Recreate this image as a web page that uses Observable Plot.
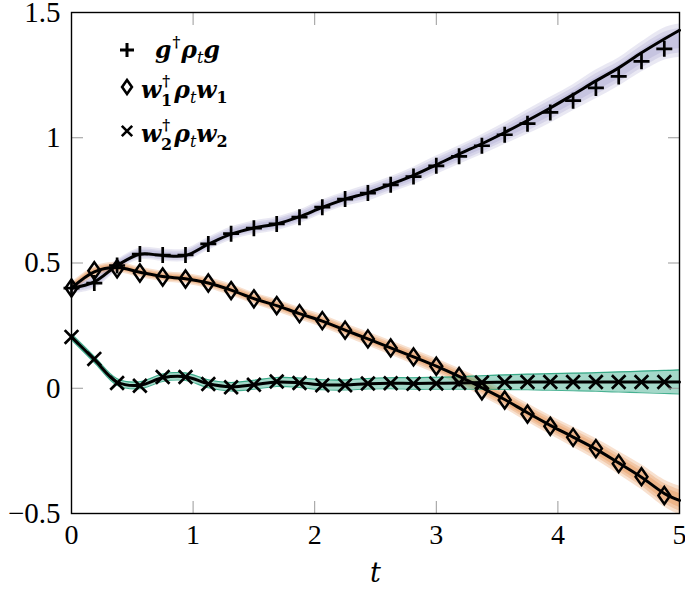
<!DOCTYPE html>
<html><head><meta charset="utf-8">
<script src="https://cdn.jsdelivr.net/npm/d3@7"></script>
<script src="https://cdn.jsdelivr.net/npm/@observablehq/plot@0.6"></script>
<style>body{margin:0;background:#fff}#chart{width:685px;height:591px}</style>
</head><body><div id="chart"></div>
<script>
// marker times and line times
const tMarks = [0, 0.1875, 0.375, 0.5625, 0.75, 0.9375, 1.125, 1.3125, 1.5, 1.6875, 1.875, 2.0625, 2.25, 2.4375, 2.625, 2.8125, 3, 3.1875, 3.375, 3.5625, 3.75, 3.9375, 4.125, 4.3125, 4.5, 4.6875, 4.875];
const tLine = [0, 0.1875, 0.375, 0.5625, 0.75, 0.9375, 1.125, 1.3125, 1.5, 1.6875, 1.875, 2.0625, 2.25, 2.4375, 2.625, 2.8125, 3, 3.1875, 3.375, 3.5625, 3.75, 3.9375, 4.125, 4.3125, 4.5, 4.6875, 4.875, 5];

// g† ρt g
const gLine = [0.40, 0.425, 0.49, 0.535, 0.53, 0.53, 0.575, 0.615, 0.64, 0.656, 0.685, 0.722, 0.755, 0.78, 0.814, 0.85, 0.892, 0.935, 0.976, 1.021, 1.069, 1.119, 1.172, 1.227, 1.279, 1.339, 1.394, 1.429];
const gMarks = [0.40, 0.42, 0.49, 0.536, 0.532, 0.532, 0.576, 0.617, 0.639, 0.656, 0.683, 0.723, 0.755, 0.779, 0.812, 0.845, 0.888, 0.926, 0.968, 1.012, 1.056, 1.101, 1.148, 1.199, 1.245, 1.305, 1.355];
const gLo = [0.38, 0.40, 0.47, 0.515, 0.51, 0.51, 0.553, 0.594, 0.617, 0.632, 0.66, 0.698, 0.73, 0.752, 0.785, 0.817, 0.858, 0.898, 0.937, 0.979, 1.02, 1.065, 1.115, 1.163, 1.213, 1.27, 1.318, 1.33];
const gHi = [0.42, 0.445, 0.51, 0.557, 0.553, 0.553, 0.598, 0.64, 0.664, 0.68, 0.708, 0.748, 0.78, 0.808, 0.84, 0.878, 0.922, 0.963, 1.007, 1.054, 1.105, 1.155, 1.205, 1.263, 1.311, 1.374, 1.43, 1.445];

// w1† ρt w1
const w1Line = [0.40, 0.465, 0.482, 0.463, 0.446, 0.437, 0.42, 0.392, 0.358, 0.33, 0.298, 0.268, 0.232, 0.197, 0.161, 0.125, 0.088, 0.047, 0.002, -0.045, -0.098, -0.148, -0.195, -0.243, -0.298, -0.355, -0.42, -0.448];
const w1Marks = [0.40, 0.469, 0.477, 0.46, 0.444, 0.436, 0.42, 0.39, 0.357, 0.33, 0.298, 0.27, 0.232, 0.197, 0.161, 0.125, 0.088, 0.047, -0.01, -0.047, -0.103, -0.152, -0.196, -0.241, -0.301, -0.353, -0.428];
const w1Half = [0.018, 0.018, 0.018, 0.018, 0.018, 0.018, 0.019, 0.02, 0.02, 0.021, 0.021, 0.022, 0.022, 0.024, 0.025, 0.026, 0.027, 0.028, 0.03, 0.031, 0.032, 0.033, 0.035, 0.037, 0.04, 0.043, 0.047, 0.05];

// w2† ρt w2
const w2Line = [0.205, 0.115, 0.025, 0.012, 0.042, 0.046, 0.018, 0.006, 0.014, 0.025, 0.022, 0.014, 0.013, 0.018, 0.02, 0.019, 0.02, 0.021, 0.023, 0.024, 0.025, 0.025, 0.025, 0.025, 0.025, 0.025, 0.025, 0.025];
const w2Marks = [0.205, 0.117, 0.021, 0.01, 0.045, 0.045, 0.017, 0.004, 0.014, 0.027, 0.021, 0.012, 0.012, 0.019, 0.02, 0.018, 0.019, 0.021, 0.023, 0.024, 0.025, 0.025, 0.025, 0.025, 0.025, 0.025, 0.025];
const w2Half = [0.012, 0.012, 0.013, 0.014, 0.015, 0.015, 0.016, 0.017, 0.018, 0.018, 0.019, 0.02, 0.02, 0.021, 0.022, 0.023, 0.024, 0.025, 0.027, 0.029, 0.031, 0.033, 0.035, 0.037, 0.04, 0.043, 0.046, 0.048];

const xTicks = [0, 1, 2, 3, 4, 5];
const yTicks = [-0.5, 0, 0.5, 1, 1.5];

const colG = "#7570b3", colW1 = "#d95f02", colW2 = "#1b9e77";
const FONT = "Liberation Serif";
const MATH = "DejaVu Serif";

// symbols
const plusSym = {draw(c, s){const r = Math.sqrt(s/Math.PI); c.moveTo(-r,0); c.lineTo(r,0); c.moveTo(0,-r); c.lineTo(0,r);}};
const diamondSym = {draw(c, s){const r = Math.sqrt(s/Math.PI); const w = r*0.7; c.moveTo(0,-r); c.lineTo(w,0); c.lineTo(0,r); c.lineTo(-w,0); c.closePath();}};
const timesSym = {draw(c, s){const r = Math.sqrt(s/Math.PI)*0.8; c.moveTo(-r,-r); c.lineTo(r,r); c.moveTo(-r,r); c.lineTo(r,-r);}};

const lineRows = tLine.map((t,i) => ({t, g: gLine[i], w1: w1Line[i], w2: w2Line[i],
  gc: (gLo[i]+gHi[i])/2, gh: (gHi[i]-gLo[i])/2, h1: w1Half[i], h2: w2Half[i]}));
const markRows = tMarks.map((t,i) => ({t, g: gMarks[i], w1: w1Marks[i], w2: w2Marks[i]}));

const fuzz = [1.15, 0.85, 0.55];
const bandMarks = [];
for (const k of fuzz) {
  bandMarks.push(Plot.areaY(lineRows, {x: "t", y1: d => d.gc - k*d.gh, y2: d => d.gc + k*d.gh, fill: colG, fillOpacity: 0.16, curve: "catmull-rom"}));
  bandMarks.push(Plot.areaY(lineRows, {x: "t", y1: d => d.w1 - k*d.h1, y2: d => d.w1 + k*d.h1, fill: colW1, fillOpacity: 0.19, curve: "catmull-rom"}));
}

const fmt = d => (d < 0 ? "\u2212" : "") + Math.abs(d);

const plot = Plot.plot({
  width: 685, height: 591,
  marginLeft: 71, marginRight: 6, marginTop: 12, marginBottom: 78,
  x: {domain: [0, 5]},
  y: {domain: [-0.5, 1.5]},
  style: {fontFamily: FONT, fontSize: "28px", color: "black", background: "white", overflow: "visible"},
  marks: [
    ...bandMarks,
    Plot.areaY(lineRows, {x: "t", y1: d => d.w2 - d.h2, y2: d => d.w2 + d.h2, fill: colW2, fillOpacity: 0.4, curve: "catmull-rom"}),
    Plot.line(lineRows, {x: "t", y: d => d.w2 - d.h2, stroke: colW2, strokeWidth: 1.2, strokeOpacity: 0.8, curve: "catmull-rom"}),
    Plot.line(lineRows, {x: "t", y: d => d.w2 + d.h2, stroke: colW2, strokeWidth: 1.2, strokeOpacity: 0.8, curve: "catmull-rom"}),
    Plot.line(lineRows, {x: "t", y: "g", stroke: "black", strokeWidth: 3, curve: "catmull-rom"}),
    Plot.line(lineRows, {x: "t", y: "w1", stroke: "black", strokeWidth: 3, curve: "catmull-rom"}),
    Plot.line(lineRows, {x: "t", y: "w2", stroke: "black", strokeWidth: 3, curve: "catmull-rom"}),
    Plot.dot(markRows, {x: "t", y: "g", symbol: plusSym, r: 8, stroke: "black", strokeWidth: 2.7, fill: "none"}),
    Plot.dot(markRows, {x: "t", y: "w1", symbol: diamondSym, r: 8.5, stroke: "black", strokeWidth: 2.5, fill: "none"}),
    Plot.dot(markRows, {x: "t", y: "w2", symbol: timesSym, r: 8.5, stroke: "black", strokeWidth: 2.7, fill: "none"}),
    // inward ticks, all four sides
    Plot.axisX(xTicks, {anchor: "bottom", tickSize: 12, dy: -12, tickFormat: () => "", stroke: "#999", strokeWidth: 1, label: null}),
    Plot.axisX(xTicks, {anchor: "top", tickSize: 12, dy: 12, tickFormat: () => "", stroke: "#999", strokeWidth: 1, label: null}),
    Plot.axisY(yTicks, {anchor: "left", tickSize: 12, dx: 12, tickFormat: () => "", stroke: "#999", strokeWidth: 1, label: null}),
    Plot.axisY(yTicks, {anchor: "right", tickSize: 12, dx: -12, tickFormat: () => "", stroke: "#999", strokeWidth: 1, label: null}),
    // tick labels
    Plot.axisX(xTicks, {anchor: "bottom", tickSize: 0, tickPadding: 11, tickFormat: fmt, label: null, fontSize: 28, fontFamily: FONT}),
    Plot.axisY(yTicks, {anchor: "left", tickSize: 0, tickPadding: 11, tickFormat: fmt, label: null, fontSize: 29, fontFamily: FONT}),
    Plot.frame({stroke: "black", strokeWidth: 1.4}),
    Plot.text(["t"], {frameAnchor: "bottom", dy: 68, fontSize: 27, fontFamily: MATH, fontStyle: "italic", text: d => d})
  ]
});

document.getElementById("chart").appendChild(plot);

// legend (inside plot, top-left)
const svg = d3.select(plot);
const lg = svg.append("g").attr("font-family", MATH).attr("text-anchor", "start");
const symPath = (sym, r) => { const p = d3.path(); sym.draw(p, Math.PI*r*r); return p.toString(); };
// parts: [text, style, dy, dx, fontSize]
const rows = [
  {sym: plusSym, r: 7, mx: 127, my: 50, tx: 155, ty: 58, sw: 3,
   parts: [["g","bi",0,0],["\u2020","b",-11,1,15],["\u03C1","bi",11,1],["t","i",5,0,16],["g","bi",-5,0]]},
  {sym: diamondSym, r: 7, mx: 127, my: 87, tx: 141, ty: 98, sw: 2.6,
   parts: [["w","bi",0,0],["\u2020","b",-12,1,15],["1","b",20,-9,16],["\u03C1","bi",-8,2],["t","i",5,0,16],["w","bi",-5,0],["1","b",5,0,16]]},
  {sym: timesSym, r: 6.5, mx: 127, my: 131, tx: 141, ty: 142, sw: 2.6,
   parts: [["w","bi",0,0],["\u2020","b",-12,1,15],["2","b",20,-9,16],["\u03C1","bi",-8,2],["t","i",5,0,16],["w","bi",-5,0],["2","b",5,0,16]]}
];
for (const row of rows) {
  lg.append("path").attr("d", symPath(row.sym, row.r)).attr("transform", `translate(${row.mx},${row.my})`)
    .attr("fill", "none").attr("stroke", "black").attr("stroke-width", row.sw);
  const t = lg.append("text").attr("x", row.tx).attr("y", row.ty).attr("font-size", 23.5);
  for (const [s, st, dy, dx, fs] of row.parts) {
    const sp = t.append("tspan").text(s).attr("dy", dy);
    if (dx) sp.attr("dx", dx);
    if (fs) sp.attr("font-size", fs);
    sp.attr("font-weight", st.includes("b") ? "bold" : "normal");
    sp.attr("font-style", st.includes("i") ? "italic" : "normal");
  }
}
</script></body></html>
